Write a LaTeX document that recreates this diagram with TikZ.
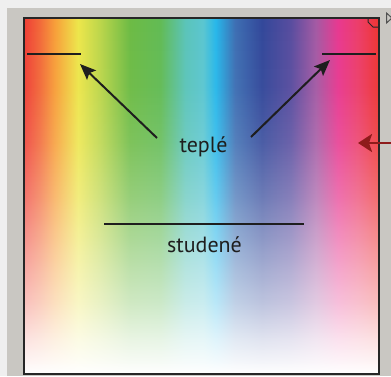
\documentclass[tikz,border=0pt]{standalone}
\usepackage{fontspec}
\setmainfont{PT Sans}
\usetikzlibrary{arrows.meta,positioning,fadings}
\definecolor{Panel}{HTML}{C9C7C2}
\definecolor{Page}{HTML}{EFEFEF}
\definecolor{Frame}{HTML}{262626}
\definecolor{Ink}{HTML}{1E1E1E}
\definecolor{Marker}{HTML}{8E1B1B}
% spectrum stops, left to right
\definecolor{sp0}{HTML}{EF3E36}
\definecolor{sp1}{HTML}{F26B3A}
\definecolor{sp2}{HTML}{F7A13A}
\definecolor{sp3}{HTML}{EDE64B}
\definecolor{sp4}{HTML}{BCD64B}
\definecolor{sp5}{HTML}{6DBB45}
\definecolor{sp6}{HTML}{62BB55}
\definecolor{sp7}{HTML}{5BC4B9}
\definecolor{sp8}{HTML}{5BC6D0}
\definecolor{sp9}{HTML}{27B7EA}
\definecolor{sp10}{HTML}{3E6FB3}
\definecolor{sp11}{HTML}{33489A}
\definecolor{sp12}{HTML}{584D9F}
\definecolor{sp13}{HTML}{A45AA4}
\definecolor{sp14}{HTML}{E83990}
\definecolor{sp15}{HTML}{EC3E6A}
\definecolor{sp16}{HTML}{EE3532}
\pgfdeclarehorizontalshading{spectrum}{100bp}{color(0bp)=(sp0); color(25bp)=(sp0);
  color(27.25bp)=(sp1); color(29.4bp)=(sp2); color(32.6bp)=(sp3); color(35.7bp)=(sp4);
  color(39.9bp)=(sp5); color(44.2bp)=(sp6); color(47.7bp)=(sp7); color(50.2bp)=(sp8);
  color(52bp)=(sp9); color(54.7bp)=(sp10); color(58.5bp)=(sp11); color(62.5bp)=(sp12);
  color(66.1bp)=(sp13); color(69.2bp)=(sp14); color(72bp)=(sp15); color(75bp)=(sp16);
  color(100bp)=(sp16)}
% white veil, opaque at the bottom
\pgfdeclareverticalshading{veil}{100bp}{color(0bp)=(white); color(25bp)=(white);
  color(30bp)=(black!15); color(35bp)=(black!32); color(42.5bp)=(black!52);
  color(50bp)=(black!72); color(57.5bp)=(black!88); color(65bp)=(black!97);
  color(75bp)=(black); color(100bp)=(black)}
\pgfdeclarefading{whitefade}{\pgfuseshading{veil}}

\begin{document}
\begin{tikzpicture}[x=1pt,y=-1pt,
    a/.style={-{Stealth[length=16pt,width=13pt,inset=3pt]},line width=2pt,draw=Ink},
    mark arrow/.style={-{Stealth[length=14pt,width=18pt,inset=3pt]},line width=2.5pt,draw=Marker},
    bar/.style={line width=2pt,draw=Ink},
    lbl/.style={font=\fontsize{22}{24}\selectfont,text=Ink,inner sep=0pt}]
    \useasboundingbox (0,0) rectangle (391,376);
    \fill[Page] (0,0) rectangle (391,376);
    \fill[Panel] (7,8) rectangle (391,376);
    % colour field
    \shade[shading=spectrum] (24,18) rectangle (379,374);
    \fill[white,path fading=whitefade] (24,18) rectangle (379,374);
    \draw[Frame,line width=2pt] (24,18) rectangle (379,374);
    \draw[Frame,line width=1pt] (368,18) -- (368,22) -- (373,27) -- (379,27);
    \draw[Frame!80,line width=1pt] (386.5,13) -- (386.5,23) -- (392,18) -- cycle;
    % labels
    \node[lbl,anchor=base] (teple) at (203.5,152) {teplé};
    \node[lbl,anchor=base] (studene) at (204.5,252) {studené};
    \coordinate (lb) at (27,54); \coordinate (le) at (81,54);
    \coordinate (rb) at (322,54); \coordinate (re) at (376,54);
    \coordinate (mb) at (104,224); \coordinate (me) at (304,224);
    \draw[bar] (lb)--(le); \draw[bar] (rb)--(re); \draw[bar] (mb)--(me);
    \coordinate (ltail) at (157,138); \coordinate (ltip) at (80,64);
    \coordinate (rtail) at (251,137); \coordinate (rtip) at (330,60);
    \draw[a] (ltail)--(ltip); \draw[a] (rtail)--(rtip);
    \coordinate (mk) at (391,143); \coordinate (mtip) at (358,143);
    \draw[mark arrow] (mk)--(mtip);
  \end{tikzpicture}
\end{document}
